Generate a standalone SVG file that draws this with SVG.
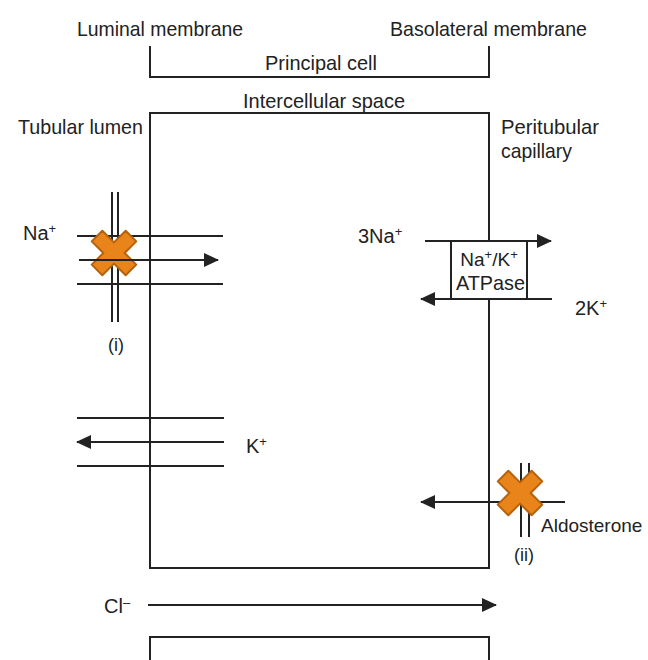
<svg xmlns="http://www.w3.org/2000/svg" width="648" height="660" viewBox="0 0 648 660">
<style>
.t{font-family:"Liberation Sans",Arial,sans-serif;font-size:21px;fill:#222}
.s{font-size:13px}
.ln{stroke:#222;stroke-width:2;fill:none}
.bx{stroke:#222;stroke-width:2;fill:#fff}
.x{fill:#E8841A;stroke:#B5620E;stroke-width:2;stroke-linejoin:round}
</style>
<defs>
<marker id="ah" markerUnits="userSpaceOnUse" markerWidth="16" markerHeight="14" refX="14" refY="7" orient="auto">
<path d="M0,0 L15,7 L0,14 Z" fill="#222"/>
</marker>
<path id="xm" d="M7.5,7.5 L24,7.5 L24,-7.5 L7.5,-7.5 L7.5,-24 L-7.5,-24 L-7.5,-7.5 L-24,-7.5 L-24,7.5 L-7.5,7.5 L-7.5,24 L7.5,24 Z"/>
</defs>
<rect width="648" height="660" fill="#fff"/>
<g id="header">
<text class="t" x="77" y="36" textLength="166" lengthAdjust="spacingAndGlyphs">Luminal membrane</text>
<text class="t" x="390" y="36" textLength="197" lengthAdjust="spacingAndGlyphs">Basolateral membrane</text>
<path class="ln" d="M150,46 V77 H489 V46"/>
<text class="t" x="265" y="70" textLength="112" lengthAdjust="spacingAndGlyphs">Principal cell</text>
<text class="t" x="243" y="108" textLength="162" lengthAdjust="spacingAndGlyphs">Intercellular space</text>
</g>
<g id="cell">
<rect class="ln" x="150" y="113" width="339" height="455"/>
</g>
<g id="lower-cell">
<path class="ln" d="M150,662 V637 H489 V662"/>
</g>
<g id="side-labels">
<text class="t" x="18" y="134" textLength="125" lengthAdjust="spacingAndGlyphs">Tubular lumen</text>
<text class="t" x="501" y="134" textLength="98" lengthAdjust="spacingAndGlyphs">Peritubular</text>
<text class="t" x="501" y="158" textLength="71" lengthAdjust="spacingAndGlyphs">capillary</text>
</g>
<g id="na-channel">
<path class="ln" d="M77,236 H223 M77,284 H223 M112,192 V322 M118,192 V322"/>
<text class="t" x="23" y="240" style="font-size:20px">Na<tspan class="s" dy="-7">+</tspan></text>
<use href="#xm" class="x" transform="translate(114,253) rotate(45)"/>
<text class="t" x="116" y="351" text-anchor="middle" style="font-size:18px">(i)</text>
</g>
<g id="k-channel">
<path class="ln" d="M77,418 H224 M77,466 H224"/>
<text class="t" x="246" y="453" style="font-size:20px">K<tspan class="s" dy="-7">+</tspan></text>
</g>
<g id="connectors">
<line class="ln" x1="79" y1="260" x2="218" y2="260" marker-end="url(#ah)"/>
<line class="ln" x1="224" y1="442" x2="77" y2="442" marker-end="url(#ah)"/>
<line class="ln" x1="425" y1="241" x2="551" y2="241" marker-end="url(#ah)"/>
<line class="ln" x1="552" y1="299" x2="421" y2="299" marker-end="url(#ah)"/>
<line class="ln" x1="565" y1="502" x2="421" y2="502" marker-end="url(#ah)"/>
<line class="ln" x1="148" y1="605" x2="496" y2="605" marker-end="url(#ah)"/>
</g>
<g id="atpase">
<rect class="bx" x="451" y="241" width="76" height="58"/>
<text class="t" x="489" y="266" text-anchor="middle" style="font-size:19px">Na<tspan class="s" dy="-7">+</tspan><tspan dy="7">/K</tspan><tspan class="s" dy="-7">+</tspan></text>
<text class="t" x="456" y="290" textLength="69" lengthAdjust="spacingAndGlyphs">ATPase</text>
<text class="t" x="358" y="243" style="font-size:20px">3Na<tspan class="s" dy="-7">+</tspan></text>
<text class="t" x="575" y="315" style="font-size:20px">2K<tspan class="s" dy="-7">+</tspan></text>
</g>
<g id="aldosterone-channel">
<path class="ln" d="M521,463 V537 M529,463 V537"/>
<use href="#xm" class="x" transform="translate(520,493) rotate(45)"/>
<text class="t" x="541" y="532" style="font-size:19px">Aldosterone</text>
<text class="t" x="524" y="561" text-anchor="middle" style="font-size:18px">(ii)</text>
</g>
<g id="cl">
<text class="t" x="104" y="613" style="font-size:20px">Cl<tspan class="s" dy="-6">–</tspan></text>
</g>
</svg>
